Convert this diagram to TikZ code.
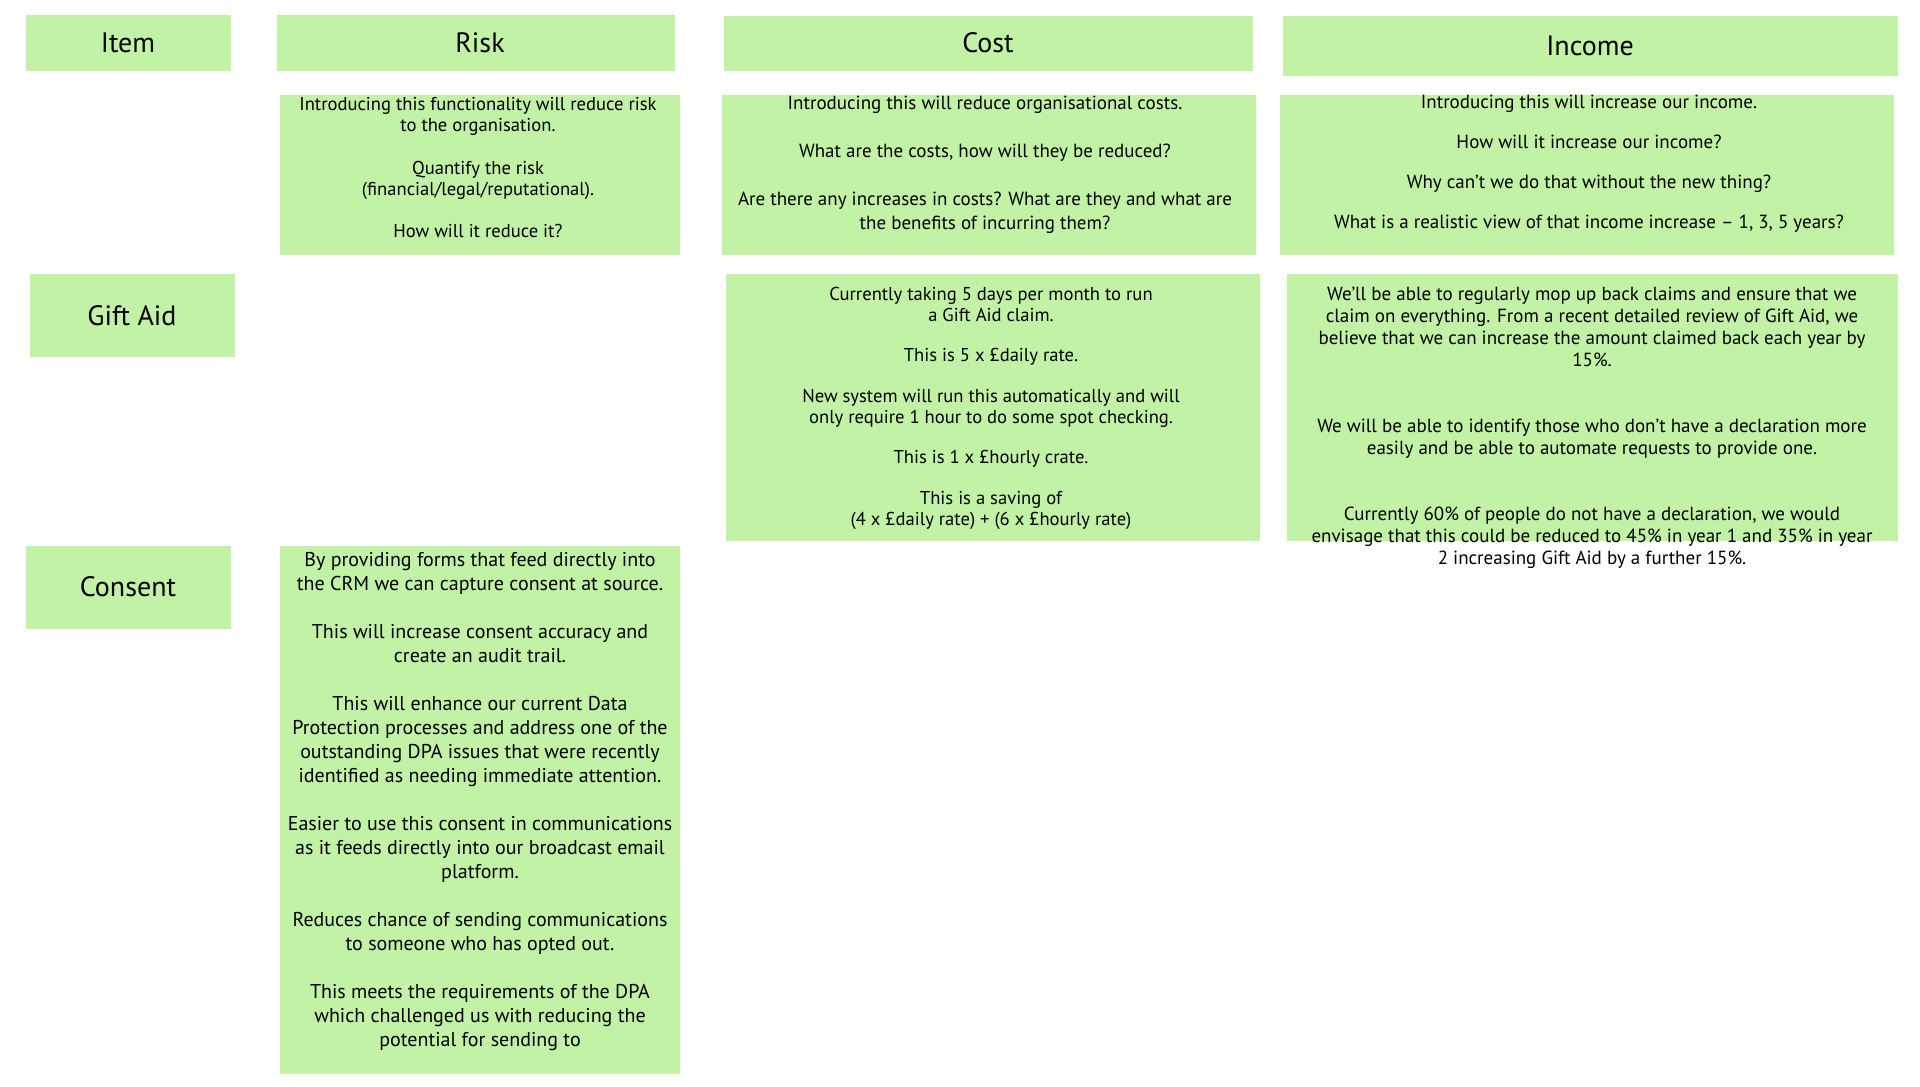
\documentclass[tikz,border=0pt]{standalone}
\usepackage{fontspec}
\setmainfont{PT Sans}
\usepackage{xcolor}
\usepackage{tikz}
\definecolor{cellgreen}{HTML}{C1F2A6}
\tikzset{
  head/.style={font=\fontsize{14}{16}\selectfont},
  body/.style={anchor=north,align=center,inner sep=0pt,font=\fontsize{9.3}{10.6}\selectfont},
}
\begin{document}
\begin{tikzpicture}[x=0.5pt,y=-0.5pt]
    \useasboundingbox (0,0) rectangle (1920,1086);
    % Header row
    \fill[cellgreen] (26,15) rectangle (231,71);
    \fill[cellgreen] (277,15) rectangle (675,71);
    \fill[cellgreen] (724,16) rectangle (1253,71);
    \fill[cellgreen] (1283,16) rectangle (1898,76);
    \node[head] (item) at (128,43) {Item};
    \node[head] (risk) at (480,43) {Risk};
    \node[head] (cost) at (988,43) {Cost};
    \node[head] (income) at (1590,46) {Income};
    % Row labels
    \fill[cellgreen] (30,274) rectangle (235,357);
    \fill[cellgreen] (26,546) rectangle (231,629);
    \node[head] (giftaid) at (132,316) {Gift Aid};
    \node[head] (consent) at (128,587) {Consent};
    % Description row
    \fill[cellgreen] (280,95) rectangle (680,255);
    \fill[cellgreen] (722,95) rectangle (1256,255);
    \fill[cellgreen] (1280,95) rectangle (1894,255);
    \node[body] (riskdesc) at (478,97) {Introducing this functionality will reduce risk\\to the organisation.\\[10.6pt]
      Quantify the risk\\(financial/legal/reputational).\\[10.6pt]How will it reduce it?};
    \node[body,font=\fontsize{9.5}{12}\selectfont] (costdesc) at (985,96) {Introducing this will reduce organisational costs.\\[12pt]
      What are the costs, how will they be reduced?\\[12pt]
      Are there any increases in costs? What are they and what are\\the benefits of incurring them?};
    \node[body,font=\fontsize{9.5}{10}\selectfont] (incomedesc) at (1589,95) {Introducing this will increase our income.\\[10pt]
      How will it increase our income?\\[10pt]
      Why can’t we do that without the new thing?\\[10pt]
      What is a realistic view of that income increase – 1, 3, 5 years?};
    % Gift Aid row
    \fill[cellgreen] (726,274) rectangle (1260,541);
    \fill[cellgreen] (1287,274) rectangle (1898,541);
    \node[body,font=\fontsize{9.3}{10.2}\selectfont] (giftcost) at (991,287) {Currently taking 5 days per month to run\\a Gift Aid claim.\\[10.2pt]
      This is 5 x £daily rate.\\[10.2pt]
      New system will run this automatically and will\\only require 1 hour to do some spot checking.\\[10.2pt]
      This is 1 x £hourly crate.\\[10.2pt]
      This is a saving of\\(4 x £daily rate) + (6 x £hourly rate)};
    \node[body,font=\fontsize{9.5}{11}\selectfont] (giftincome) at (1592,287) {We’ll be able to regularly mop up back claims and ensure that we\\claim on everything. From a recent detailed review of Gift Aid, we\\believe that we can increase the amount claimed back each year by\\15\%.\\[22pt]
      We will be able to identify those who don’t have a declaration more\\easily and be able to automate requests to provide one.\\[22pt]
      Currently 60\% of people do not have a declaration, we would\\envisage that this could be reduced to 45\% in year 1 and 35\% in year\\2 increasing Gift Aid by a further 15\%.};
    % Consent row
    \fill[cellgreen] (280,546) rectangle (680,1074);
    \node[body,font=\fontsize{10}{12}\selectfont] (consentrisk) at (480,552) {By providing forms that feed directly into\\the CRM we can capture consent at source.\\[12pt]
      This will increase consent accuracy and\\create an audit trail.\\[12pt]
      This will enhance our current Data\\Protection processes and address one of the\\outstanding DPA issues that were recently\\identified as needing immediate attention.\\[12pt]
      Easier to use this consent in communications\\as it feeds directly into our broadcast email\\platform.\\[12pt]
      Reduces chance of sending communications\\to someone who has opted out.\\[12pt]
      This meets the requirements of the DPA\\which challenged us with reducing the\\potential for sending to};
  \end{tikzpicture}
\end{document}
